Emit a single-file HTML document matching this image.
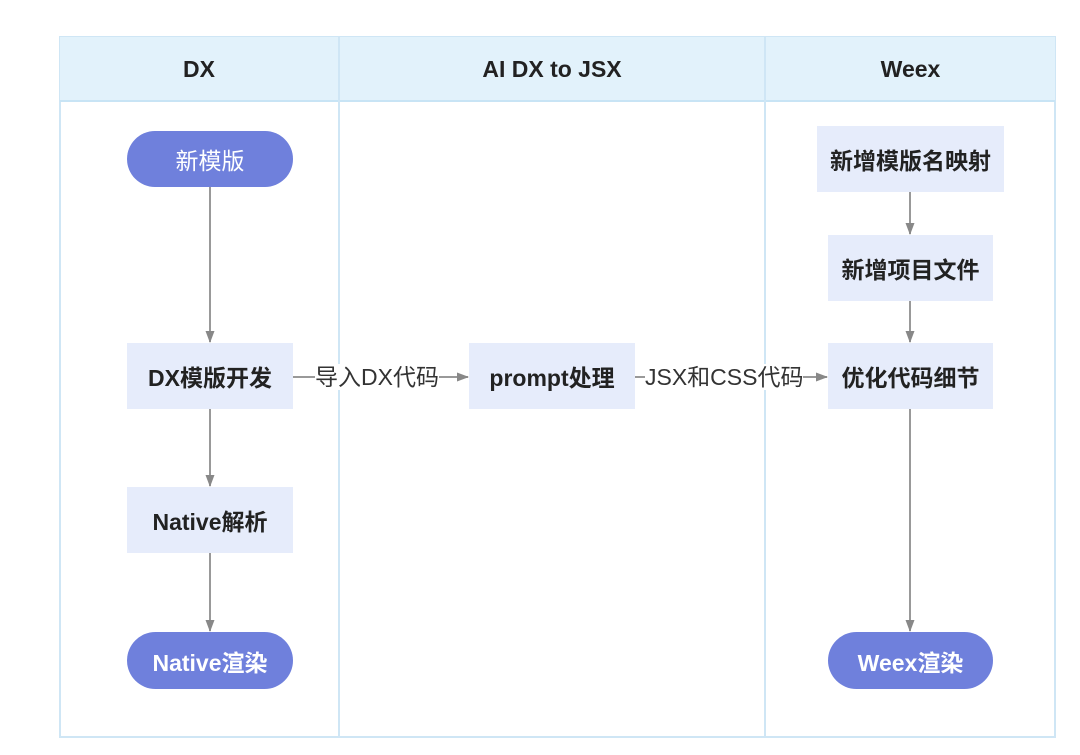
<!DOCTYPE html>
<html><head><meta charset="utf-8"><style>
body{margin:0;width:1080px;height:755px;background:#fff;position:relative;overflow:hidden;font-family:"Liberation Sans","Noto Sans CJK SC",sans-serif;}
.a{position:absolute;box-sizing:border-box;}
.n{position:absolute;display:flex;align-items:center;justify-content:center;font-weight:bold;font-size:23px;color:#222;background:#e6ecfb;white-space:nowrap;}
.p{background:#6f80dc;color:#fff;border-radius:29px;font-weight:normal;}
.h{position:absolute;top:36px;height:66px;display:flex;align-items:center;justify-content:center;font-weight:bold;font-size:23px;color:#222;}
.lbl{position:absolute;font-size:23px;color:#333;background:#fff;line-height:26px;white-space:nowrap;}
</style></head><body>
<div class="a" style="left:59px;top:36px;width:997px;height:702px;border:2px solid #cfe6f5;"></div>
<div class="a" style="left:60px;top:37px;width:995px;height:65px;background:#e2f2fb;border-bottom:2px solid #c8e4f5;"></div>
<div class="a" style="left:338px;top:37px;width:2px;height:700px;background:#cfe6f5;"></div>
<div class="a" style="left:764px;top:37px;width:2px;height:700px;background:#cfe6f5;"></div>
<div class="h" style="left:60px;width:278px;">DX</div>
<div class="h" style="left:340px;width:424px;">AI DX to JSX</div>
<div class="h" style="left:766px;width:289px;">Weex</div>
<svg class="a" style="left:0;top:0" width="1080" height="755">
<defs><marker id="m" markerWidth="12" markerHeight="12" refX="11" refY="6" orient="auto" markerUnits="userSpaceOnUse"><path d="M0,1.5 L12,6 L0,10.5 Z" fill="#888"/></marker></defs>
<g stroke="#999" stroke-width="2" fill="none">
<line x1="210" y1="187" x2="210" y2="342" marker-end="url(#m)"/>
<line x1="210" y1="409" x2="210" y2="486" marker-end="url(#m)"/>
<line x1="210" y1="553" x2="210" y2="631" marker-end="url(#m)"/>
<line x1="910" y1="192" x2="910" y2="234" marker-end="url(#m)"/>
<line x1="910" y1="301" x2="910" y2="342" marker-end="url(#m)"/>
<line x1="910" y1="409" x2="910" y2="631" marker-end="url(#m)"/>
<line x1="293" y1="377" x2="468" y2="377" marker-end="url(#m)"/>
<line x1="635" y1="377" x2="827" y2="377" marker-end="url(#m)"/>
</g></svg>
<div class="lbl" style="left:315px;top:364px;">导入DX代码</div>
<div class="lbl" style="left:645px;top:364px;">JSX和CSS代码</div>
<div class="n p" style="left:127px;top:131px;width:166px;height:56px;">新模版</div>
<div class="n" style="left:127px;top:343px;width:166px;height:66px;">DX模版开发</div>
<div class="n" style="left:127px;top:487px;width:166px;height:66px;">Native解析</div>
<div class="n p" style="left:127px;top:632px;width:166px;height:57px;font-weight:bold;">Native渲染</div>
<div class="n" style="left:469px;top:343px;width:166px;height:66px;">prompt处理</div>
<div class="n" style="left:817px;top:126px;width:187px;height:66px;">新增模版名映射</div>
<div class="n" style="left:828px;top:235px;width:165px;height:66px;">新增项目文件</div>
<div class="n" style="left:828px;top:343px;width:165px;height:66px;">优化代码细节</div>
<div class="n p" style="left:828px;top:632px;width:165px;height:57px;font-weight:bold;">Weex渲染</div>
</body></html>
